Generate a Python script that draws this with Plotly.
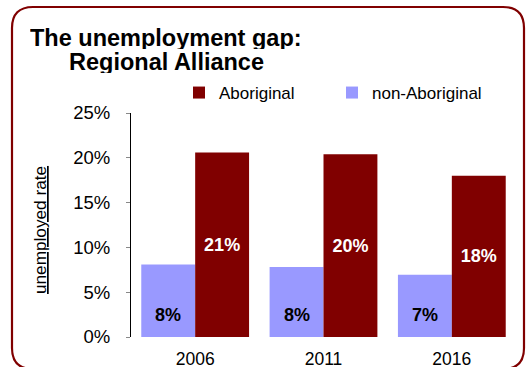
import plotly.graph_objects as go

# Census years and unemployment rates (fractions)
years = ["2006", "2011", "2016"]
aboriginal = [0.206, 0.204, 0.180]
non_aboriginal = [0.081, 0.078, 0.0695]
y_ticks = [0, 0.05, 0.10, 0.15, 0.20, 0.25]
y_tick_text = ["0%", "5%", "10%", "15%", "20%", "25%"]

MAROON = "#800000"
LAVENDER = "#9999FF"
FONT = "Liberation Sans, Arial, Helvetica, sans-serif"

W, H = 531, 367
ML, MR, MT, MB = 131, 15, 113, 30
PW, PH = W - ML - MR, H - MT - MB
BARGAP = 0.16


def px_x(p):
    return (p - ML) / PW


def px_y(p):
    return (H - MB - p) / PH


fig = go.Figure()
fig.add_trace(go.Bar(
    name="non-Aboriginal", x=years, y=non_aboriginal,
    marker=dict(color=LAVENDER, line=dict(width=0)),
    hoverinfo="skip",
))
fig.add_trace(go.Bar(
    name="Aboriginal", x=years, y=aboriginal,
    marker=dict(color=MAROON, line=dict(width=0)),
    text=aboriginal, texttemplate="%{text:.0%}",
    textposition="inside", insidetextanchor="middle",
    textfont=dict(family=FONT, size=18, color="white", weight="bold"),
    hoverinfo="skip",
))

# value labels near the foot of the non-Aboriginal bars
cat_px = PW / len(years)
shift = -cat_px * (1 - BARGAP) / 4
annotations = []
for i, v in enumerate(non_aboriginal):
    annotations.append(dict(
        x=i, y=0, xref="x", yref="y", yanchor="bottom",
        xshift=shift, yshift=10, showarrow=False,
        text=f"<b>{v:.0%}</b>",
        font=dict(family=FONT, size=18, color="black"),
    ))

# two-line centred heading
annotations += [
    dict(x=px_x(166), y=px_y(38), xref="paper", yref="paper",
         xanchor="center", yanchor="middle", showarrow=False, height=22,
         text="<b>The unemployment gap:</b>",
         font=dict(family=FONT, size=23.5, color="black")),
    dict(x=px_x(166), y=px_y(62), xref="paper", yref="paper",
         xanchor="center", yanchor="middle", showarrow=False, height=22,
         text="<b>Regional Alliance</b>",
         font=dict(family=FONT, size=23.5, color="black")),
    dict(x=px_x(40), y=px_y(230), xref="paper", yref="paper",
         xanchor="center", yanchor="middle", showarrow=False,
         textangle=-90, text="<u>unemployed rate</u>",
         font=dict(family=FONT, size=17.2, color="black")),
]

# rounded frame around the chart
L, R, T, B, r = 12, 524, 7, 369, 21
pts = [
    ("M", [(L + r, T)]),
    ("L", [(R - r, T)]),
    ("Q", [(R, T), (R, T + r)]),
    ("L", [(R, B - r)]),
    ("Q", [(R, B), (R - r, B)]),
    ("L", [(L + r, B)]),
    ("Q", [(L, B), (L, B - r)]),
    ("L", [(L, T + r)]),
    ("Q", [(L, T), (L + r, T)]),
]
path = " ".join(
    cmd + " " + " ".join(f"{px_x(a):.5f},{px_y(b):.5f}" for a, b in seg)
    for cmd, seg in pts
) + " Z"

fig.update_layout(
    width=W, height=H,
    margin=dict(l=ML, r=MR, t=MT, b=MB, pad=0, autoexpand=False),
    paper_bgcolor="white", plot_bgcolor="white",
    barmode="group", bargap=BARGAP, bargroupgap=0,
    font=dict(family=FONT, color="black"),
    showlegend=True,
    legend=dict(
        orientation="h", traceorder="reversed",
        x=px_x(179), xanchor="left", y=px_y(93), yanchor="middle",
        font=dict(family=FONT, size=17, color="black"),
        entrywidth=108, bgcolor="rgba(0,0,0,0)",
    ),
    xaxis=dict(
        type="category", automargin=False,
        range=[-0.5, 2.5], showline=False, showgrid=False, zeroline=False,
        ticks="", tickfont=dict(family=FONT, size=17.5, color="black"),
        ticklabelstandoff=9,
    ),
    yaxis=dict(
        automargin=False,
        range=[0, 0.25], tickvals=y_ticks, ticktext=y_tick_text,
        showline=True, linecolor="black", linewidth=1,
        showgrid=False, zeroline=False,
        ticks="outside", ticklen=4, tickcolor="#888888",
        tickfont=dict(family=FONT, size=18.5, color="black"),
        ticklabelstandoff=12,
    ),
    annotations=annotations,
    shapes=[dict(type="path", xref="paper", yref="paper", path=path,
                 line=dict(color=MAROON, width=2.2), layer="above")],
)

fig.write_html("out.html")
